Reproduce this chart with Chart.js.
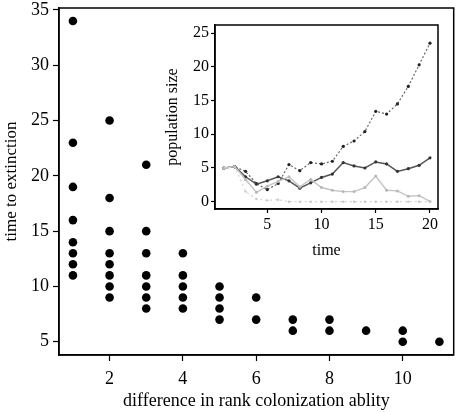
<!DOCTYPE html>
<html>
<head>
<meta charset="utf-8">
<script src="https://cdn.jsdelivr.net/npm/chart.js@4"></script>
<style>
  html, body { margin: 0; padding: 0; background: #fff; }
  #wrap { position: relative; width: 458px; height: 412px; }
  #main { position: absolute; left: 0; top: 0; }
  #inset { position: absolute; left: 160px; top: 18px; }
</style>
</head>
<body>
<div id="wrap">
  <canvas id="main" width="458" height="412"></canvas>
  <canvas id="inset" width="285" height="245"></canvas>
</div>
<script>
// ---------- main scatter data ----------
const rankDifference = [1, 2, 3, 4, 5, 6, 7, 8, 9, 10, 11];
const extinctionTimes = [
  [34, 23, 19, 16, 14, 13, 12, 11],
  [25, 18, 15, 13, 12, 11, 10, 9],
  [21, 15, 13, 11, 10, 9, 8],
  [13, 11, 10, 9, 8],
  [10, 9, 8, 7],
  [9, 7],
  [7, 6],
  [7, 6],
  [6],
  [6, 5],
  [5]
];
const mainXTicks = [2, 4, 6, 8, 10];
const mainYTicks = [5, 10, 15, 20, 25, 30, 35];

// ---------- inset data ----------
const timeSteps = [1,2,3,4,5,6,7,8,9,10,11,12,13,14,15,16,17,18,19,20];
const popGrowing = [5.0, 5.2, 4.5, 2.7, 1.8, 2.7, 5.5, 4.6, 5.8, 5.6, 6.0, 8.2, 9.0, 10.4, 13.4, 13.0, 14.5, 17.1, 20.3, 23.5];
const popStable  = [5.0, 5.2, 3.7, 2.6, 3.1, 3.7, 3.1, 2.0, 2.8, 3.6, 4.1, 5.8, 5.3, 5.0, 5.9, 5.6, 4.5, 4.9, 5.4, 6.5];
const popDecline = [5.0, 5.2, 3.3, 1.4, 2.3, 3.0, 3.7, 2.2, 3.3, 2.1, 1.7, 1.5, 1.5, 2.1, 3.8, 1.7, 1.6, 0.8, 0.9, 0.05];
const popExtinct = [5.0, 5.2, 1.5, 0.4, 0.2, 0.3, 0.0, 0.0, 0.0, 0.0, 0.0, 0.0, 0.0, 0.0, 0.0, 0.0, 0.0, 0.0, 0.0, 0.0];
const insetXTicks = [5, 10, 15, 20];
const insetYTicks = [0, 5, 10, 15, 20, 25];

const serif = "'Liberation Serif', 'DejaVu Serif', serif";

const framePlugin = {
  id: 'frame',
  afterDraw(chart, args, opts) {
    const a = chart.chartArea, ctx = chart.ctx;
    ctx.save();
    ctx.strokeStyle = '#000';
    ctx.lineWidth = opts.width || 1.5;
    ctx.strokeRect(a.left, a.top, a.right - a.left, a.bottom - a.top);
    ctx.restore();
  }
};

function fixedTicks(list) {
  return s => { s.ticks = list.map(v => ({ value: v })); };
}

// build points
const mainPoints = [];
rankDifference.forEach((r, i) => extinctionTimes[i].forEach(t => mainPoints.push({ x: r, y: t })));

new Chart(document.getElementById('main'), {
  type: 'scatter',
  data: {
    datasets: [{
      data: mainPoints,
      pointRadius: 4.3,
      pointBorderWidth: 0,
      backgroundColor: '#000',
      borderColor: '#000'
    }]
  },
  options: {
    responsive: false,
    animation: false,
    devicePixelRatio: 1,
    layout: { padding: { top: 8, right: 1, left: 0, bottom: 0 } },
    plugins: { legend: { display: false }, tooltip: { enabled: false }, frame: { width: 1.5 } },
    scales: {
      x: {
        type: 'linear',
        min: 0.62, max: 11.39,
        afterBuildTicks: fixedTicks(mainXTicks),
        afterFit: s => { s.height = 57; s.paddingLeft = 0; s.paddingRight = 0; },
        grid: { drawOnChartArea: false, drawTicks: true, tickLength: 6, tickColor: '#000', tickWidth: 1.2 },
        border: { display: true, color: '#000', width: 1.5 },
        ticks: { color: '#000', font: { family: serif, size: 18 }, padding: 7, maxRotation: 0, autoSkip: false },
        title: { display: true, text: 'difference in rank colonization ablity', color: '#000', font: { family: serif, size: 18 }, padding: 0 }
      },
      y: {
        type: 'linear',
        min: 3.8, max: 35.18,
        afterBuildTicks: fixedTicks(mainYTicks),
        afterFit: s => { s.width = 59; s.paddingTop = 0; s.paddingBottom = 0; },
        grid: { drawOnChartArea: false, drawTicks: true, tickLength: 6, tickColor: '#000', tickWidth: 1.2 },
        border: { display: true, color: '#000', width: 1.5 },
        ticks: { color: '#000', font: { family: serif, size: 18 }, padding: 4, autoSkip: false },
        title: { display: true, text: 'time to extinction', color: '#000', font: { family: serif, size: 17 }, padding: { top: 1, bottom: 0 } }
      }
    }
  },
  plugins: [framePlugin]
});

function lineSet(values, color, width, dash, ptColor, ptRadius) {
  return {
    data: values,
    borderColor: color,
    borderWidth: width,
    borderDash: dash,
    pointRadius: ptRadius,
    pointBackgroundColor: ptColor,
    pointBorderWidth: 0,
    tension: 0,
    fill: false
  };
}

new Chart(document.getElementById('inset'), {
  type: 'line',
  data: {
    labels: timeSteps,
    datasets: [
      lineSet(popExtinct, '#d4d4d4', 1.2, [2, 3], '#c8c8c8', 1.2),
      lineSet(popDecline, '#c4c4c4', 1.4, [], '#b8b8b8', 1.5),
      lineSet(popStable, '#555', 1.5, [], '#333', 1.6),
      lineSet(popGrowing, '#666', 1.2, [2, 2], '#222', 1.6)
    ]
  },
  options: {
    responsive: false,
    animation: false,
    devicePixelRatio: 1,
    layout: { padding: { top: 7, right: 7, left: 0, bottom: 0 } },
    plugins: { legend: { display: false }, tooltip: { enabled: false }, frame: { width: 1.5 } },
    scales: {
      x: {
        type: 'linear',
        min: 0.18, max: 20.74,
        afterBuildTicks: fixedTicks(insetXTicks),
        afterFit: s => { s.height = 54; s.paddingLeft = 0; s.paddingRight = 0; },
        grid: { drawOnChartArea: false, drawTicks: true, tickLength: 4, tickColor: '#000', tickWidth: 1.2 },
        border: { display: true, color: '#000', width: 1.5 },
        ticks: { color: '#000', font: { family: serif, size: 16 }, padding: 2, maxRotation: 0, autoSkip: false },
        title: { display: true, text: 'time', color: '#000', font: { family: serif, size: 16 }, padding: { top: 0, bottom: 3 } }
      },
      y: {
        type: 'linear',
        min: -1.08, max: 26.2,
        afterBuildTicks: fixedTicks(insetYTicks),
        afterFit: s => { s.width = 55; s.paddingTop = 0; s.paddingBottom = 0; },
        grid: { drawOnChartArea: false, drawTicks: true, tickLength: 4, tickColor: '#000', tickWidth: 1.2 },
        border: { display: true, color: '#000', width: 1.5 },
        ticks: { color: '#000', font: { family: serif, size: 16 }, padding: 2, autoSkip: false },
        title: { display: true, text: 'population size', color: '#000', font: { family: serif, size: 16 }, padding: { top: 3, bottom: 0 } }
      }
    }
  },
  plugins: [framePlugin]
});
</script>
</body>
</html>
